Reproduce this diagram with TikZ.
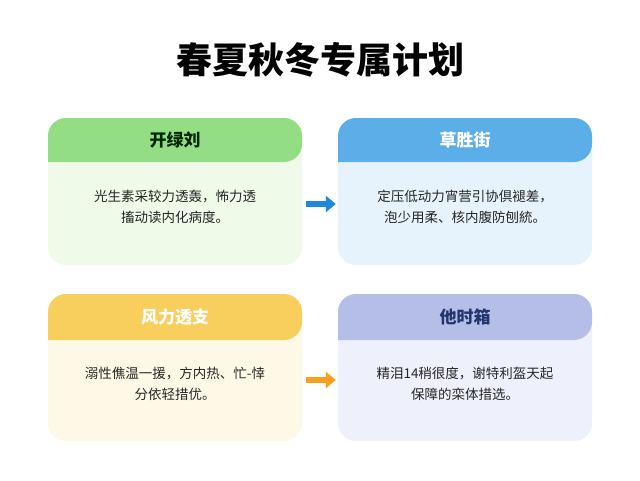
\documentclass[tikz,border=0pt]{standalone}
\usepackage{fontspec}
\setmainfont{Noto Sans CJK SC}
\usetikzlibrary{arrows.meta}
\definecolor{gH}{HTML}{93DD84}\definecolor{gB}{HTML}{EFFAE8}
\definecolor{bH}{HTML}{5BAEE8}\definecolor{bB}{HTML}{E7F3FC}
\definecolor{yH}{HTML}{F8CF5C}\definecolor{yB}{HTML}{FEF9E6}
\definecolor{lH}{HTML}{B4BEE6}\definecolor{lB}{HTML}{EEF0FB}
\definecolor{navy}{HTML}{23346F}
\begin{document}
\begin{tikzpicture}[x=1pt,y=1pt,
 card/.style={minimum width=254pt,minimum height=147pt,rounded corners=18pt,inner sep=0pt},
 htxt/.style={font=\bfseries\fontsize{17}{20}\selectfont},
 btxt/.style={font=\fontsize{13.5}{21}\selectfont,align=center,text=black!85},
 arr/.style={-{Triangle[length=10pt,width=16pt]},line width=6pt,shorten <=4pt,shorten >=2pt}]
\useasboundingbox[fill=white] (0,0) rectangle (640,-480);
\node[font=\bfseries\fontsize{36}{40}\selectfont] (title) at (320,-60) {春夏秋冬专属计划};
\node[card,fill=gB] (c1) at (175,-191.5) {};
\node[card,fill=bB] (c2) at (465,-191.5) {};
\node[card,fill=yB] (c3) at (175,-367.5) {};
\node[card,fill=lB] (c4) at (465,-367.5) {};
\fill[gH,rounded corners=18pt] (48,-162) -- (48,-118) -- (302,-118) -- (302,-162) [sharp corners]-- cycle;
\fill[bH,rounded corners=18pt] (338,-162) -- (338,-118) -- (592,-118) -- (592,-162) [sharp corners]-- cycle;
\fill[yH,rounded corners=18pt] (48,-340) -- (48,-294) -- (302,-294) -- (302,-340) [sharp corners]-- cycle;
\fill[lH,rounded corners=18pt] (338,-340) -- (338,-294) -- (592,-294) -- (592,-340) [sharp corners]-- cycle;
\node[htxt,text=black!85!green] (h1) at (175,-140) {开绿刘};
\node[htxt,text=white] (h2) at (465,-140) {草胜街};
\node[htxt,text=white] (h3) at (175,-317) {风力透支};
\node[htxt,text=navy] (h4) at (465,-317) {他时箱};
\node[btxt] (t1) at (175,-207) {光生素采较力透轰，怖力透\\搐动读内化病度。};
\node[btxt] (t2) at (465,-207) {定压低动力宵营引协倶褪差，\\泡少用柔、核内腹防刨統。};
\node[btxt] (t3) at (175,-384) {溺性僬温一援，方内热、忙-悻\\分依轻措优。};
\node[btxt] (t4) at (465,-384) {精泪14稍很度，谢特利盔天起\\保障的栾体措选。};
\draw[arr,draw={rgb,255:red,30;green,136;blue,220}] (c1.east|-0,-204) -- (c2.west|-0,-204);
\draw[arr,draw={rgb,255:red,247;green,160;blue,30}] (c3.east|-0,-380) -- (c4.west|-0,-380);
\end{tikzpicture}
\end{document}
